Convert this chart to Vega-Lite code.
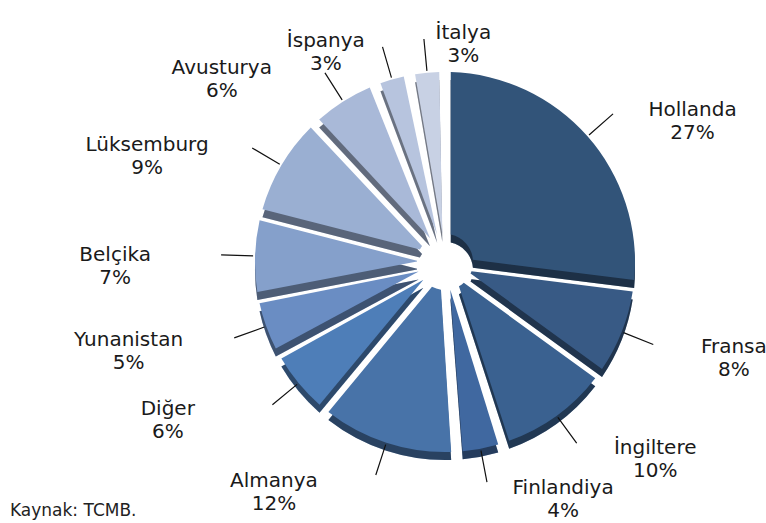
{
  "$schema": "https://vega.github.io/schema/vega-lite/v6.json",
  "width": 642,
  "height": 498,
  "autosize": "none",
  "padding": {"left": 124, "top": 13, "right": 0, "bottom": 12},
  "background": "white",
  "config": {"view": {"stroke": null}, "font": "DejaVu Sans"},
  "title": {"text": "Kaynak: TCMB.", "orient": "bottom", "anchor": "start", "frame": "group", "dx": -114, "offset": -18, "fontSize": 17, "fontWeight": "normal", "color": "#222222", "font": "DejaVu Sans"},
  "data": {"values": [
    {"i": 1, "name": "Hollanda", "value": 27},
    {"i": 2, "name": "Fransa", "value": 8},
    {"i": 3, "name": "İngiltere", "value": 10},
    {"i": 4, "name": "Finlandiya", "value": 4},
    {"i": 5, "name": "Almanya", "value": 12},
    {"i": 6, "name": "Diğer", "value": 6},
    {"i": 7, "name": "Yunanistan", "value": 5},
    {"i": 8, "name": "Belçika", "value": 7},
    {"i": 9, "name": "Lüksemburg", "value": 9},
    {"i": 10, "name": "Avusturya", "value": 6},
    {"i": 11, "name": "İspanya", "value": 3},
    {"i": 12, "name": "İtalya", "value": 3}
  ]},
  "transform": [
    {"stack": "value", "groupby": [], "sort": [{"field": "i", "order": "ascending"}], "as": ["s0", "s1"]},
    {"calculate": "(datum.s0 + datum.s1) / 2", "as": "mid"},
    {"calculate": "[datum.name, datum.value + '%']", "as": "label"}
  ],
  "layer": [
    {
      "mark": {"type": "arc", "radius": 190, "radius2": 28, "padAngle": 0.06, "yOffset": 8},
      "encoding": {
        "theta": {"field": "s0", "type": "quantitative", "scale": {"domain": [0, 100]}},
        "theta2": {"field": "s1"},
        "color": {"field": "name", "type": "nominal", "legend": null,
          "scale": {"domain": ["Hollanda", "Fransa", "İngiltere", "Finlandiya", "Almanya", "Diğer", "Yunanistan", "Belçika", "Lüksemburg", "Avusturya", "İspanya", "İtalya"],
                    "range": ["#325479", "#385A85", "#3A6190", "#4068A0", "#4873A8", "#4E7EB8", "#6A8DC3", "#85A0CB", "#9AAFD2", "#A9B9D8", "#B7C4DE", "#C8D1E4"]}}
      }
    },
    {
      "mark": {"type": "arc", "radius": 190, "radius2": 28, "padAngle": 0.06, "yOffset": 8, "color": "#000000", "opacity": 0.42},
      "encoding": {
        "theta": {"field": "s0", "type": "quantitative", "scale": {"domain": [0, 100]}},
        "theta2": {"field": "s1"}
      }
    },
    {
      "mark": {"type": "arc", "radius": 190, "radius2": 28, "padAngle": 0.06},
      "encoding": {
        "theta": {"field": "s0", "type": "quantitative", "scale": {"domain": [0, 100]}},
        "theta2": {"field": "s1"},
        "color": {"field": "name", "type": "nominal", "legend": null}
      }
    },
    {
      "mark": {"type": "arc", "radius": 224, "radius2": 192, "fill": null, "fillOpacity": 0, "stroke": "#111111", "strokeWidth": 1.2},
      "encoding": {
        "theta": {"field": "mid", "type": "quantitative", "scale": {"domain": [0, 100]}},
        "theta2": {"field": "mid"}
      }
    },
    {
      "transform": [{"filter": "datum.i <= 4"}],
      "mark": {"type": "text", "radius": 230, "dx": 75, "fontSize": 20, "color": "#1a1a1a", "align": "center", "baseline": "middle", "lineHeight": 23},
      "encoding": {
        "theta": {"field": "mid", "type": "quantitative", "scale": {"domain": [0, 100]}},
        "text": {"field": "label"}
      }
    },
    {
      "transform": [{"filter": "datum.i >= 5 && datum.i <= 10"}],
      "mark": {"type": "text", "radius": 230, "dx": -100, "fontSize": 20, "color": "#1a1a1a", "align": "center", "baseline": "middle", "lineHeight": 23},
      "encoding": {
        "theta": {"field": "mid", "type": "quantitative", "scale": {"domain": [0, 100]}},
        "text": {"field": "label"}
      }
    },
    {
      "transform": [{"filter": "datum.i == 11"}],
      "mark": {"type": "text", "radius": 230, "dx": -55, "fontSize": 20, "color": "#1a1a1a", "align": "center", "baseline": "middle", "lineHeight": 23},
      "encoding": {
        "theta": {"field": "mid", "type": "quantitative", "scale": {"domain": [0, 100]}},
        "text": {"field": "label"}
      }
    },
    {
      "transform": [{"filter": "datum.i == 12"}],
      "mark": {"type": "text", "radius": 230, "dx": 40, "fontSize": 20, "color": "#1a1a1a", "align": "center", "baseline": "middle", "lineHeight": 23},
      "encoding": {
        "theta": {"field": "mid", "type": "quantitative", "scale": {"domain": [0, 100]}},
        "text": {"field": "label"}
      }
    }
  ]
}
